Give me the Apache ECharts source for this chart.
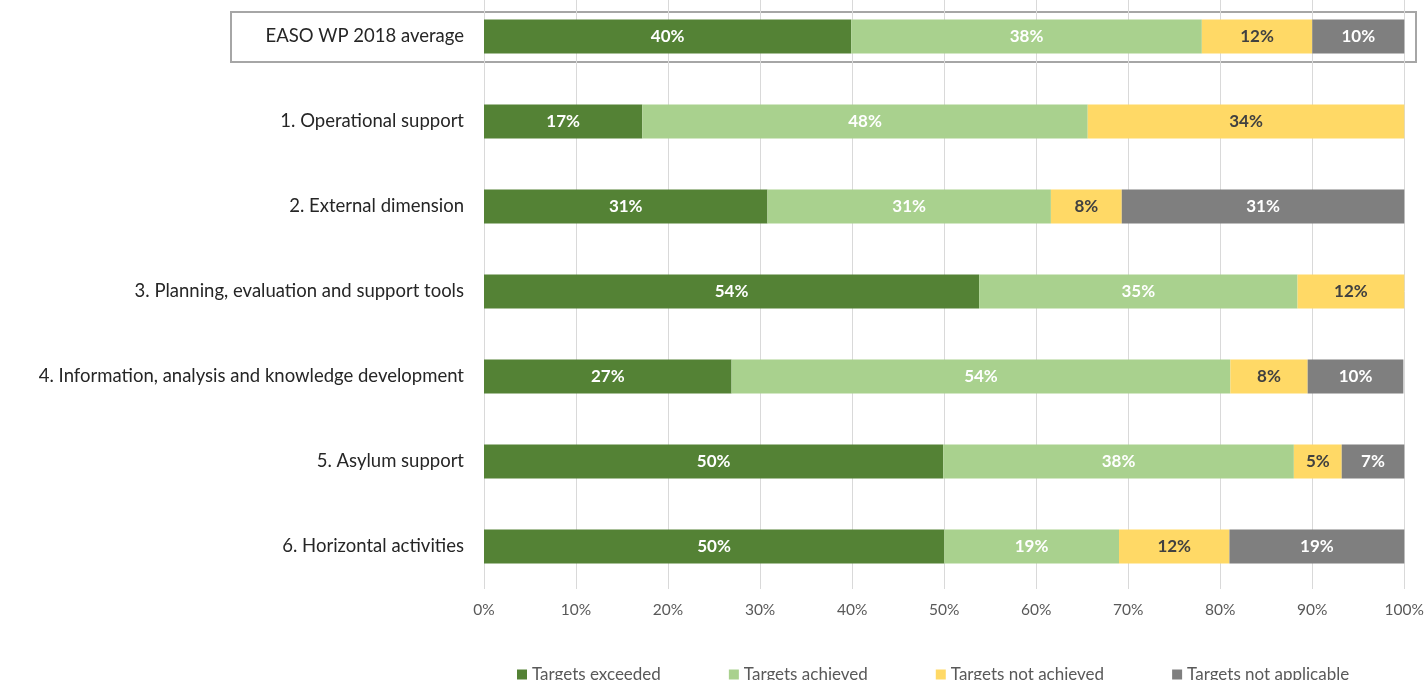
<!DOCTYPE html>
<html>
<head>
<meta charset="utf-8">
<script src="https://cdn.jsdelivr.net/npm/echarts@6/dist/echarts.min.js"></script>
<style>
html,body{margin:0;padding:0;background:#fff;overflow:hidden;width:1427px;height:680px;position:relative;}
#c{position:absolute;left:0;top:-6px;width:1427px;height:686px;}
</style>
</head>
<body>
<div id="c"></div>
<script>
const categories = [
  "EASO WP 2018 average",
  "1. Operational support",
  "2. External dimension",
  "3. Planning, evaluation and support tools",
  "4. Information, analysis and knowledge development",
  "5. Asylum support",
  "6. Horizontal activities"
];
const seriesNames = ["Targets exceeded", "Targets achieved", "Targets not achieved", "Targets not applicable"];
const exceeded    = [39.9, 17.2, 30.8, 53.8, 26.9, 49.9, 50.0];
const achieved    = [38.1, 48.4, 30.8, 34.6, 54.2, 38.1, 19.0];
const notAchieved = [12.0, 34.4, 7.7, 11.6, 8.4, 5.2, 12.0];
const notApplic   = [10.0, 0, 30.7, 0, 10.4, 6.8, 19.0];
const xTicks = [0, 10, 20, 30, 40, 50, 60, 70, 80, 90, 100];

const colors = ["#548235", "#A9D18E", "#FFD966", "#7F7F7F"];
const labelColors = ["#ffffff", "#ffffff", "#404040", "#ffffff"];
const dataSets = [exceeded, achieved, notAchieved, notApplic];
const FONT = "Lato, 'Open Sans', sans-serif";

const chart = echarts.init(document.getElementById('c'));
chart.setOption({
  animation: false,
  textStyle: {fontFamily: FONT},
  grid: {left: 484, right: 22, top: 0, bottom: 91, containLabel: false},
  xAxis: {
    type: 'value', min: 0, max: 100, interval: 10,
    axisLabel: {formatter: v => xTicks.includes(v) ? v + '%' : '', color: '#595959', fontSize: 15.5, fontFamily: FONT, margin: 13},
    splitLine: {show: true, lineStyle: {color: '#D9D9D9', width: 1}},
    axisLine: {show: false}, axisTick: {show: false}
  },
  yAxis: {
    type: 'category', data: categories, inverse: true,
    axisLabel: {color: '#262626', fontSize: 18.5, fontFamily: FONT, margin: 20},
    axisLine: {show: false}, axisTick: {show: false}
  },
  legend: {
    data: seriesNames, left: 512, top: 667, itemWidth: 10, itemHeight: 10, itemGap: 68,
    icon: 'rect',
    textStyle: {color: '#595959', fontSize: 17, fontFamily: FONT}
  },
  graphic: [{
    type: 'rect', z: -1,
    shape: {x: 231, y: 18, width: 1185, height: 50},
    style: {fill: 'none', stroke: '#A6A6A6', lineWidth: 2}
  }],
  series: dataSets.map((d, i) => ({
    name: seriesNames[i], type: 'bar', stack: 'all', barWidth: 34,
    data: d,
    itemStyle: {color: colors[i]},
    label: {
      show: true, position: 'inside', fontWeight: 'bold', fontSize: 17, fontFamily: FONT,
      color: labelColors[i],
      formatter: p => p.value > 0 ? Math.round(p.value) + '%' : ''
    }
  }))
});
</script>
</body>
</html>
